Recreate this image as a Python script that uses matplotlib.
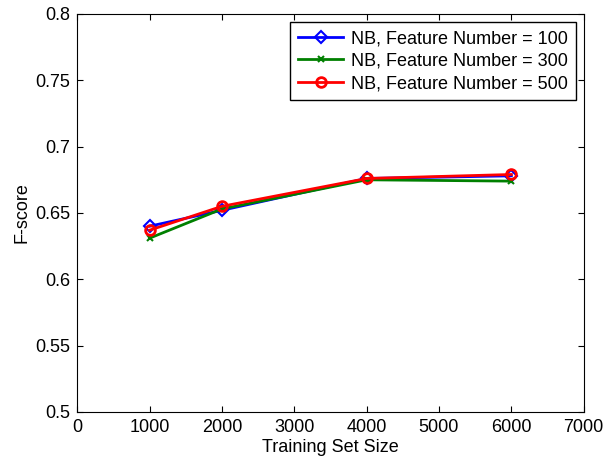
import matplotlib
matplotlib.use("Agg")
import matplotlib.pyplot as plt

plt.rcParams['font.family'] = ['Liberation Sans', 'DejaVu Sans']

sizes = [1000, 2000, 4000, 6000]
f100 = [0.640, 0.652, 0.676, 0.678]
f300 = [0.631, 0.653, 0.675, 0.674]
f500 = [0.637, 0.655, 0.676, 0.679]

fig = plt.figure(figsize=(6.03, 4.66), dpi=100)
ax = fig.add_axes([0.128, 0.116, 0.840, 0.854])

ax.plot(sizes, f100, color='blue', lw=2, marker='D', ms=6, mfc='none', mew=1.5,
        label='NB, Feature Number = 100')
ax.plot(sizes, f300, color='green', lw=2, marker='x', ms=4, mew=1.5,
        label='NB, Feature Number = 300')
ax.plot(sizes, f500, color='red', lw=2, marker='o', ms=7, mfc='none', mew=2,
        label='NB, Feature Number = 500')

ax.set_xlim(0, 7000)
ax.set_ylim(0.5, 0.8)
ax.set_xticks(range(0, 7001, 1000))
ax.set_yticks([0.5, 0.55, 0.6, 0.65, 0.7, 0.75, 0.8])
ax.set_yticklabels(['0.5', '0.55', '0.6', '0.65', '0.7', '0.75', '0.8'])
ax.tick_params(direction='in', top=True, right=True, labelsize=13, length=4, pad=5)
ax.set_xlabel('Training Set Size', fontsize=13, labelpad=2)
ax.set_ylabel('F-score', fontsize=13, labelpad=3)

leg = ax.legend(loc='upper right', fontsize=13, fancybox=False, framealpha=1,
                edgecolor='black', borderpad=0.45, labelspacing=0.3,
                handlelength=2.5, handletextpad=0.4, borderaxespad=0.45)
leg.get_frame().set_linewidth(1)

fig.savefig('out.png', dpi=100)
